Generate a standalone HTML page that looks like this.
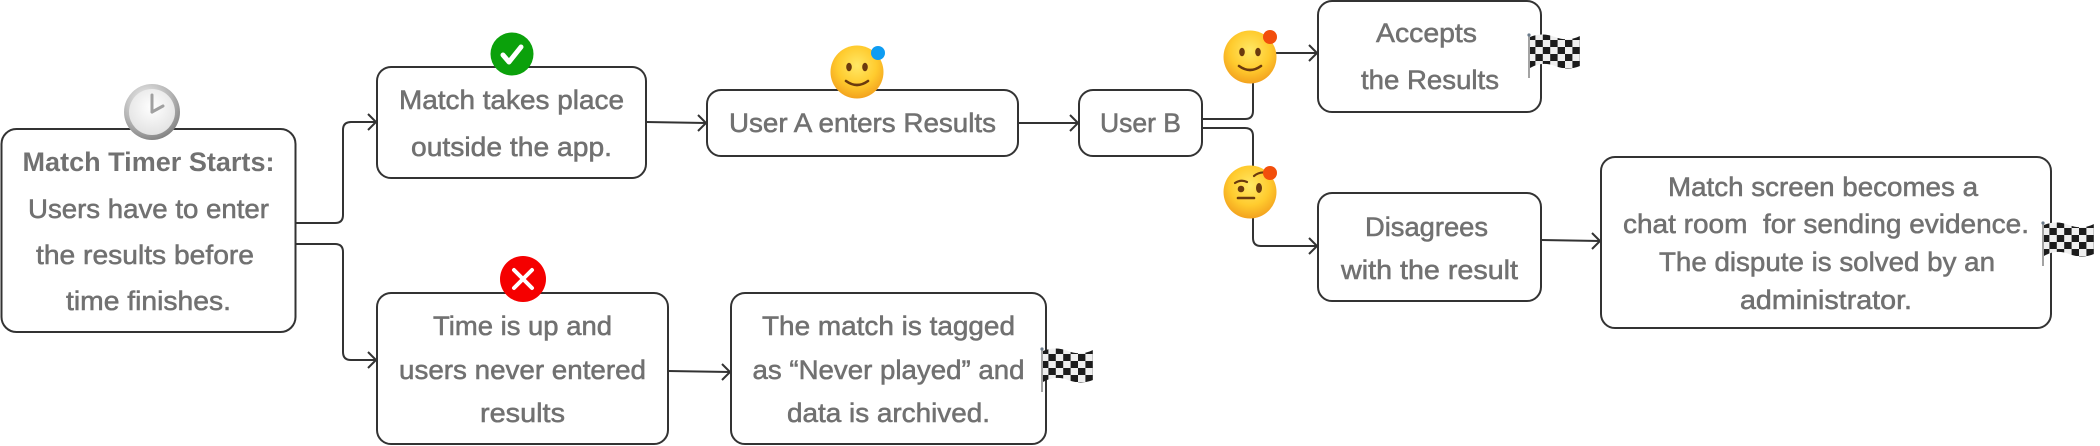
<!DOCTYPE html>
<html><head><meta charset="utf-8"><style>
html,body{margin:0;padding:0;background:#fff;}
svg{display:block;}
text{font-family:"Liberation Sans",sans-serif;font-size:27px;fill:#717171;white-space:pre;}
.r{stroke:#717171;stroke-width:0.55px;}
</style></head><body>
<svg width="2100" height="446" viewBox="0 0 2100 446" xmlns="http://www.w3.org/2000/svg">
<defs>
<radialGradient id="yel" cx="50%" cy="38%" r="62%">
<stop offset="0" stop-color="#FFE866"/><stop offset="0.6" stop-color="#FFCB2E"/><stop offset="1" stop-color="#F3A21E"/>
</radialGradient>
<radialGradient id="silver" cx="40%" cy="30%" r="75%">
<stop offset="0" stop-color="#f2f2f2"/><stop offset="0.6" stop-color="#b5b5b5"/><stop offset="1" stop-color="#7d7d7d"/>
</radialGradient>
<radialGradient id="face" cx="50%" cy="40%" r="60%">
<stop offset="0" stop-color="#ffffff"/><stop offset="1" stop-color="#e3e3e3"/>
</radialGradient>
<pattern id="chk" width="14.8" height="14" patternUnits="userSpaceOnUse">
<rect width="14.8" height="14" fill="#efefef"/>
<rect x="0" y="0" width="7.4" height="7" fill="#1c1c1c"/>
<rect x="7.4" y="7" width="7.4" height="7" fill="#1c1c1c"/>
</pattern>
<g id="flag">
<line x1="1" y1="2" x2="1" y2="45" stroke="#8c8c8c" stroke-width="1.6"/>
<circle cx="1" cy="2" r="1.6" fill="#6a7a8a"/>
<path d="M2 4 Q14 -1 27 4 T52 3 L52 33 Q40 38 27 33 T2 35 Z" fill="url(#chk)"/>
</g>
</defs>

<!-- boxes -->
<g fill="#fff" stroke="#333" stroke-width="2">
<rect x="1.5" y="129" width="294" height="203" rx="15"/>
<rect x="377" y="67" width="269" height="111" rx="14"/>
<rect x="377" y="293" width="291" height="151" rx="14"/>
<rect x="707" y="90" width="311" height="66" rx="14"/>
<rect x="1079" y="90" width="123" height="66" rx="14"/>
<rect x="731" y="293" width="315" height="151" rx="14"/>
<rect x="1318" y="1" width="223" height="111" rx="14"/>
<rect x="1318" y="193" width="223" height="108" rx="14"/>
<rect x="1601" y="157" width="450" height="171" rx="14"/>
</g>

<!-- connectors -->
<g fill="none" stroke="#333" stroke-width="2" stroke-linejoin="round">
<path d="M296 223 H335 Q343 223 343 215 V130 Q343 122 351 122 H376"/>
<polyline points="368,114 376,122 368,130"/>
<path d="M296 244 H335 Q343 244 343 252 V352 Q343 360 351 360 H376"/>
<polyline points="368,352 376,360 368,368"/>
<path d="M646 122 L706 123"/>
<polyline points="698,115 706,123 698,131"/>
<path d="M1018 123 H1078"/>
<polyline points="1070,115 1078,123 1070,131"/>
<path d="M1202 119 H1245 Q1253 119 1253 111 V53 H1317"/>
<polyline points="1309,45 1317,53 1309,61"/>
<path d="M1202 128 H1245 Q1253 128 1253 136 V238 Q1253 246 1261 246 H1317"/>
<polyline points="1309,238 1317,246 1309,254"/>
<path d="M668 371 L730 372"/>
<polyline points="722,364 730,372 722,380"/>
<path d="M1541 240 L1600 241"/>
<polyline points="1592,233 1600,241 1592,249"/>
</g>

<!-- clock -->
<circle cx="152" cy="112" r="28" fill="url(#silver)"/>
<circle cx="152" cy="112" r="23" fill="url(#face)"/>
<g stroke="#a0a0a0" stroke-width="3" stroke-linecap="round">
<line x1="152" y1="112" x2="152" y2="95"/>
<line x1="152" y1="112" x2="163" y2="106"/>
</g>

<!-- green check -->
<circle cx="512" cy="54" r="21.5" fill="#0BA10B"/>
<path d="M503 55 L509 62 L521 47" fill="none" stroke="#fff" stroke-width="5" stroke-linecap="round" stroke-linejoin="round"/>

<!-- red x -->
<circle cx="523" cy="279" r="23" fill="#F50000"/>
<g stroke="#fff" stroke-width="4" stroke-linecap="round">
<line x1="514" y1="270" x2="532" y2="288"/><line x1="532" y1="270" x2="514" y2="288"/>
</g>

<!-- smiling face user A -->
<circle cx="857" cy="72" r="26.5" fill="url(#yel)"/>
<ellipse cx="849" cy="67" rx="2.8" ry="4.3" fill="#6b3a0e"/>
<ellipse cx="865" cy="67" rx="2.8" ry="4.3" fill="#6b3a0e"/>
<path d="M846 81 Q857 89 868 81" fill="none" stroke="#6b3a0e" stroke-width="2.6" stroke-linecap="round"/>
<circle cx="878" cy="53" r="7" fill="#0E9CF2"/>

<!-- smiling face accepts -->
<circle cx="1250" cy="57" r="26.5" fill="url(#yel)"/>
<ellipse cx="1242" cy="52" rx="2.8" ry="4.3" fill="#6b3a0e"/>
<ellipse cx="1258" cy="52" rx="2.8" ry="4.3" fill="#6b3a0e"/>
<path d="M1239 66 Q1250 74 1261 66" fill="none" stroke="#6b3a0e" stroke-width="2.6" stroke-linecap="round"/>
<circle cx="1270" cy="37" r="7" fill="#F24E0C"/>

<!-- raised eyebrow face -->
<circle cx="1250" cy="192" r="26.5" fill="url(#yel)"/>
<ellipse cx="1241" cy="189" rx="3.3" ry="3.3" fill="#6b3a0e"/>
<ellipse cx="1259" cy="188" rx="3" ry="5" fill="#6b3a0e"/>
<path d="M1235 183 Q1241 179 1247 182" fill="none" stroke="#6b3a0e" stroke-width="2.2" stroke-linecap="round"/>
<path d="M1254 176 Q1260 171 1267 173" fill="none" stroke="#6b3a0e" stroke-width="2.2" stroke-linecap="round"/>
<line x1="1238" y1="198" x2="1254" y2="198" stroke="#6b3a0e" stroke-width="2.6" stroke-linecap="round"/>
<circle cx="1270" cy="173" r="7" fill="#F24E0C"/>

<!-- flags -->
<use href="#flag" transform="translate(1528,33)"/>
<use href="#flag" transform="translate(1041,347)"/>
<use href="#flag" transform="translate(2042,221)"/>

<!-- text -->
<g text-anchor="middle">
<text x="148.5" y="171" font-weight="bold" textLength="252" lengthAdjust="spacingAndGlyphs">Match Timer Starts:</text>
<text class="r" x="148.5" y="218" textLength="241" lengthAdjust="spacingAndGlyphs">Users have to enter</text>
<text class="r" x="145" y="264" textLength="218" lengthAdjust="spacingAndGlyphs">the results before</text>
<text class="r" x="148.5" y="310" textLength="165" lengthAdjust="spacingAndGlyphs">time finishes.</text>

<text class="r" x="511.5" y="109" textLength="225" lengthAdjust="spacingAndGlyphs">Match takes place</text>
<text class="r" x="511.5" y="156" textLength="201" lengthAdjust="spacingAndGlyphs">outside the app.</text>

<text class="r" x="522.5" y="335" textLength="179" lengthAdjust="spacingAndGlyphs">Time is up and</text>
<text class="r" x="522.5" y="379" textLength="247" lengthAdjust="spacingAndGlyphs">users never entered</text>
<text class="r" x="522.5" y="422" textLength="85" lengthAdjust="spacingAndGlyphs">results</text>

<text class="r" x="862.5" y="132" textLength="267" lengthAdjust="spacingAndGlyphs">User A enters Results</text>
<text class="r" x="1140.5" y="132" textLength="81" lengthAdjust="spacingAndGlyphs">User B</text>

<text class="r" x="888.5" y="335" textLength="253" lengthAdjust="spacingAndGlyphs">The match is tagged</text>
<text class="r" x="888.5" y="379" textLength="272" lengthAdjust="spacingAndGlyphs">as “Never played” and</text>
<text class="r" x="888.5" y="422" textLength="203" lengthAdjust="spacingAndGlyphs">data is archived.</text>

<text class="r" x="1426.5" y="42" textLength="101" lengthAdjust="spacingAndGlyphs">Accepts</text>
<text class="r" x="1430" y="89" textLength="138" lengthAdjust="spacingAndGlyphs">the Results</text>

<text class="r" x="1426.5" y="236" textLength="123" lengthAdjust="spacingAndGlyphs">Disagrees</text>
<text class="r" x="1429.5" y="279" textLength="177" lengthAdjust="spacingAndGlyphs">with the result</text>

<text class="r" x="1823" y="196" textLength="310" lengthAdjust="spacingAndGlyphs">Match screen becomes a</text>
<text class="r" x="1826" y="233" textLength="406" lengthAdjust="spacingAndGlyphs">chat room  for sending evidence.</text>
<text class="r" x="1827" y="271" textLength="336" lengthAdjust="spacingAndGlyphs">The dispute is solved by an</text>
<text class="r" x="1826" y="309" textLength="172" lengthAdjust="spacingAndGlyphs">administrator.</text>
</g>
</svg>
</body></html>
